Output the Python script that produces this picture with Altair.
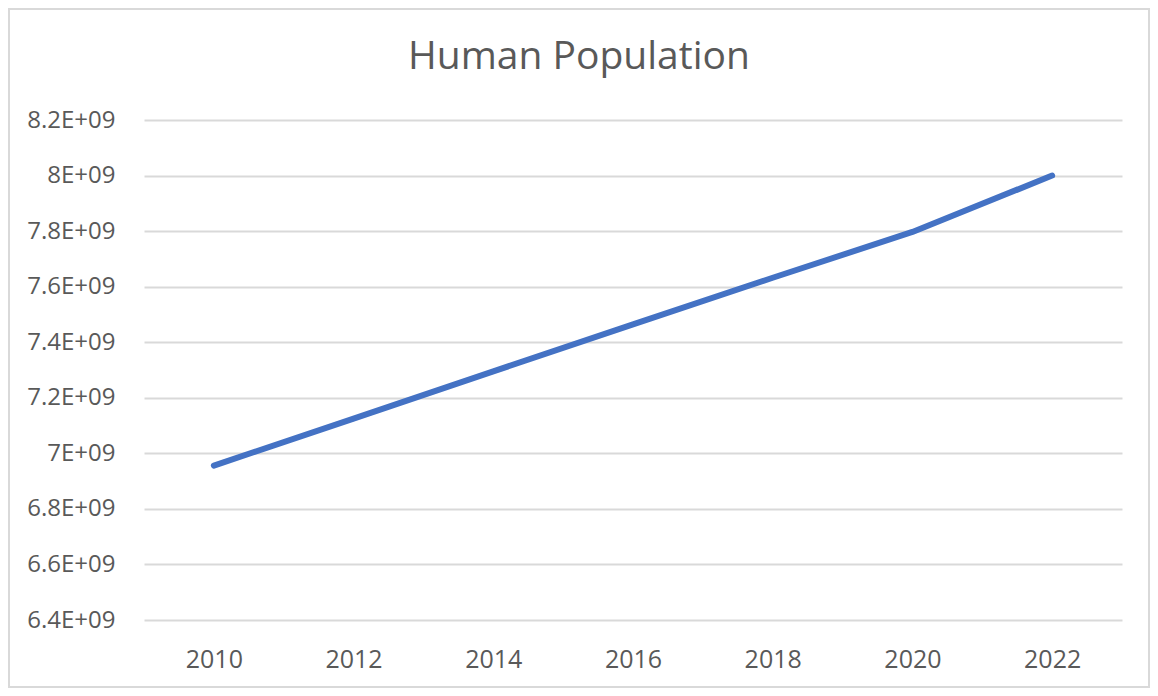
import altair as alt
import pandas as pd

years = ["2010", "2012", "2014", "2016", "2018", "2020", "2022"]
population = [6.956e9, 7.125e9, 7.295e9, 7.464e9, 7.632e9, 7.797e9, 8.0e9]
y_ticks = [6.4e9, 6.6e9, 6.8e9, 7.0e9, 7.2e9, 7.4e9, 7.6e9, 7.8e9, 8.0e9, 8.2e9]

df = pd.DataFrame({"Year": years, "Population": population})

W, H = 978, 500
PAD = {"left": 136, "top": 112, "right": 28, "bottom": 68}
FONT = "Open Sans"
TXT = "#595959"
GRID = "#d9d9d9"

line = alt.Chart(df).mark_line(
    color="#4472C4", strokeWidth=6, strokeCap="round", strokeJoin="round"
).encode(
    x=alt.X("Year:N", sort=years,
            scale=alt.Scale(type="point", padding=0.5),
            axis=alt.Axis(title=None, labelAngle=0, labelFontSize=25, labelFont=FONT,
                          labelColor=TXT, ticks=False, domain=False, grid=False,
                          labelPadding=27)),
    y=alt.Y("Population:Q",
            scale=alt.Scale(domain=[y_ticks[0], y_ticks[-1]], nice=False, zero=False),
            axis=alt.Axis(title=None, values=y_ticks, labelFontSize=24, labelFont=FONT,
                          labelColor=TXT, ticks=False, domain=False, grid=True,
                          gridColor=GRID, gridWidth=2, labelPadding=29,
                          labelExpr="format(datum.value/1e9, '.1~f') + 'E+09'")),
)

border = alt.Chart(alt.Data(values=[{"k": 1}])).mark_rect(
    filled=False, stroke=GRID, strokeWidth=2
).encode(
    x=alt.value(-PAD["left"] + 1), x2=alt.value(W + PAD["right"] - 1),
    y=alt.value(-PAD["top"] + 1), y2=alt.value(H + PAD["bottom"] - 1),
)

chart = alt.layer(border, line).properties(
    width=W, height=H,
    title=alt.Title("Human Population", fontSize=39, font=FONT, fontWeight="normal",
                    color=TXT, anchor="middle", frame="group", dx=-54, offset=43,
                    dy=PAD["top"]),
    autosize=alt.AutoSizeParams(type="none"),
    padding=PAD,
    background="white",
).configure_view(stroke=None)

chart.save("out.html", embed_options={"renderer": "svg", "actions": False})
